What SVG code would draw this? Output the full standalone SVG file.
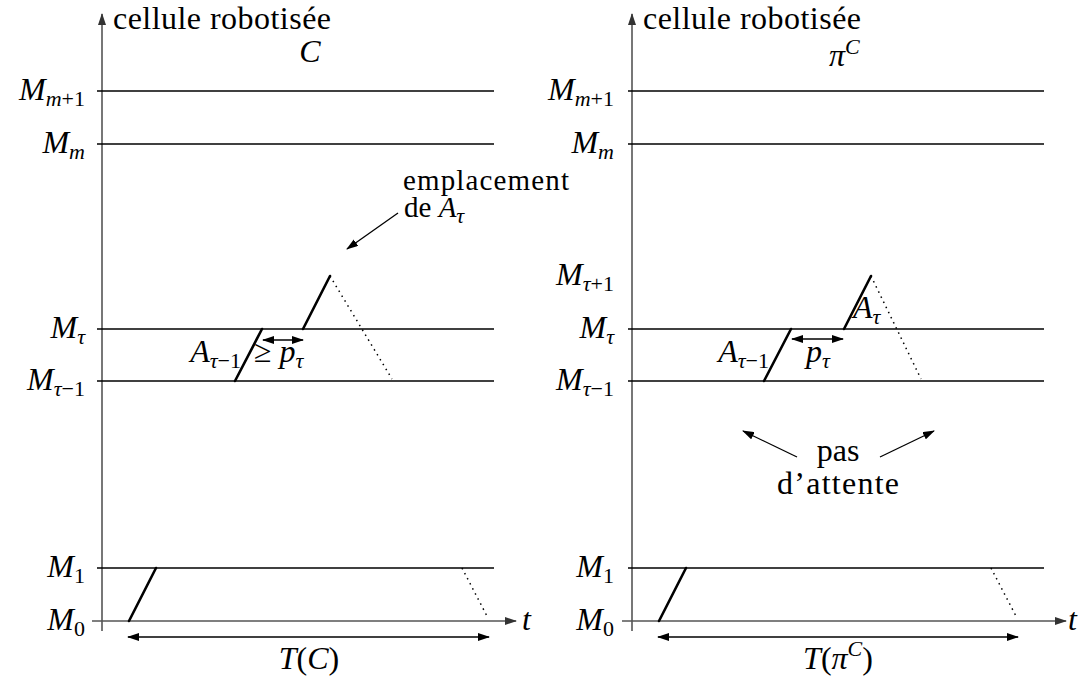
<svg xmlns="http://www.w3.org/2000/svg" width="1081" height="680" viewBox="0 0 1081 680">
<style>
.t{font-family:'Liberation Serif',serif;font-size:32px;fill:#000}
.i{font-style:italic}
.s{font-size:22px}
.e{font-size:29px}
.ln{stroke:#000;stroke-width:1.3;fill:none}
.ax{stroke:#555;stroke-width:1.6;fill:none}
.th{stroke:#000;stroke-width:2.6;fill:none;stroke-linecap:round}
.dt{stroke:#000;stroke-width:1.5;fill:none;stroke-dasharray:1.5 4.2}
.ar{stroke:#000;stroke-width:1.3;fill:none}
</style>
<defs>
<marker id="ah" markerWidth="12" markerHeight="8" refX="11" refY="4" orient="auto-start-reverse" markerUnits="userSpaceOnUse"><path d="M0,0 L12,4 L0,8 z" fill="#000"/></marker>
<marker id="ahs" markerWidth="12" markerHeight="8" refX="11" refY="4" orient="auto-start-reverse" markerUnits="userSpaceOnUse"><path d="M0,0 L12,4 L0,8 z" fill="#333"/></marker>
</defs>

<g id="left-axes">
<line class="ax" x1="102" y1="631" x2="102" y2="14" marker-end="url(#ahs)"/>
<line class="ax" x1="92" y1="621" x2="516" y2="621" marker-end="url(#ahs)"/>
<line class="ln" x1="97" y1="91" x2="494" y2="91"/>
<line class="ln" x1="97" y1="144" x2="494" y2="144"/>
<line class="ln" x1="97" y1="329" x2="494" y2="329"/>
<line class="ln" x1="97" y1="381" x2="494" y2="381"/>
<line class="ln" x1="97" y1="568" x2="494" y2="568"/>
</g>
<g id="left-title"><text class="t" x="113" y="29" textLength="218">cellule robotisée</text></g>
<g id="left-C"><text class="t i" x="310" y="62" text-anchor="middle">C</text></g>
<g id="left-t"><text class="t i" x="522" y="630">t</text></g>
<g id="left-labels">
<text class="t" x="85" y="100" text-anchor="end"><tspan class="i">M</tspan><tspan class="s" dy="6"><tspan class="i">m</tspan>+1</tspan></text>
<text class="t" x="85" y="153" text-anchor="end"><tspan class="i">M</tspan><tspan class="s i" dy="6">m</tspan></text>
<text class="t" x="85" y="338" text-anchor="end"><tspan class="i">M</tspan><tspan class="s i" dy="6">τ</tspan></text>
<text class="t" x="85" y="390" text-anchor="end"><tspan class="i">M</tspan><tspan class="s" dy="6"><tspan class="i">τ</tspan>−1</tspan></text>
<text class="t" x="85" y="577" text-anchor="end"><tspan class="i">M</tspan><tspan class="s" dy="6">1</tspan></text>
<text class="t" x="85" y="630" text-anchor="end"><tspan class="i">M</tspan><tspan class="s" dy="6">0</tspan></text>
</g>
<g id="left-schedule">
<line class="th" x1="129" y1="621" x2="156" y2="568"/>
<line class="dt" x1="462" y1="568" x2="488" y2="618"/>
<line class="th" x1="235" y1="381" x2="262" y2="329"/>
<line class="th" x1="303" y1="329" x2="330" y2="276"/>
<line class="dt" x1="330" y1="276" x2="392" y2="379"/>
</g>
<g id="left-Atau1"><text class="t" x="241" y="362" text-anchor="end"><tspan class="i">A</tspan><tspan class="s" dy="6"><tspan class="i">τ</tspan>−1</tspan></text></g>
<g id="left-geq"><text class="t" x="254" y="362">≥ <tspan class="i">p</tspan><tspan class="s i" dy="6">τ</tspan></text></g>
<g id="left-empl">
<text class="t e" x="403" y="190" textLength="166">emplacement</text>
<text class="t e" x="404" y="217">de <tspan class="i">A</tspan><tspan class="s i" dy="6">τ</tspan></text>
</g>
<g id="left-TC"><text class="t" x="309" y="669" text-anchor="middle"><tspan class="i">T</tspan>(<tspan class="i">C</tspan>)</text></g>

<g id="right-axes">
<line class="ax" x1="632" y1="631" x2="632" y2="14" marker-end="url(#ahs)"/>
<line class="ax" x1="622" y1="621" x2="1066" y2="621" marker-end="url(#ahs)"/>
<line class="ln" x1="628" y1="91" x2="1044" y2="91"/>
<line class="ln" x1="628" y1="144" x2="1044" y2="144"/>
<line class="ln" x1="628" y1="329" x2="1044" y2="329"/>
<line class="ln" x1="628" y1="381" x2="1044" y2="381"/>
<line class="ln" x1="628" y1="568" x2="1044" y2="568"/>
</g>
<g id="right-title"><text class="t" x="643" y="29" textLength="218">cellule robotisée</text></g>
<g id="right-piC"><text class="t" x="829" y="66"><tspan class="i">π</tspan><tspan class="s i" dy="-12">C</tspan></text></g>
<g id="right-t"><text class="t i" x="1068" y="630">t</text></g>
<g id="right-labels">
<text class="t" x="614" y="100" text-anchor="end"><tspan class="i">M</tspan><tspan class="s" dy="6"><tspan class="i">m</tspan>+1</tspan></text>
<text class="t" x="614" y="153" text-anchor="end"><tspan class="i">M</tspan><tspan class="s i" dy="6">m</tspan></text>
<text class="t" x="614" y="285" text-anchor="end"><tspan class="i">M</tspan><tspan class="s" dy="6"><tspan class="i">τ</tspan>+1</tspan></text>
<text class="t" x="614" y="338" text-anchor="end"><tspan class="i">M</tspan><tspan class="s i" dy="6">τ</tspan></text>
<text class="t" x="614" y="390" text-anchor="end"><tspan class="i">M</tspan><tspan class="s" dy="6"><tspan class="i">τ</tspan>−1</tspan></text>
<text class="t" x="614" y="577" text-anchor="end"><tspan class="i">M</tspan><tspan class="s" dy="6">1</tspan></text>
<text class="t" x="614" y="630" text-anchor="end"><tspan class="i">M</tspan><tspan class="s" dy="6">0</tspan></text>
</g>
<g id="right-schedule">
<line class="th" x1="659" y1="621" x2="686" y2="568"/>
<line class="dt" x1="991" y1="568" x2="1017" y2="618"/>
<line class="th" x1="764" y1="381" x2="791" y2="329"/>
<line class="th" x1="844" y1="329" x2="871" y2="276"/>
<line class="dt" x1="871" y1="276" x2="921" y2="379"/>
</g>
<g id="right-Atau"><text class="t" x="853" y="318"><tspan class="i">A</tspan><tspan class="s i" dy="6">τ</tspan></text></g>
<g id="right-Atau1"><text class="t" x="769" y="362" text-anchor="end"><tspan class="i">A</tspan><tspan class="s" dy="6"><tspan class="i">τ</tspan>−1</tspan></text></g>
<g id="right-ptau"><text class="t" x="806" y="362"><tspan class="i">p</tspan><tspan class="s i" dy="6">τ</tspan></text></g>
<g id="right-pas">
<text class="t" x="838" y="461" text-anchor="middle">pas</text>
<text class="t" x="838" y="494" text-anchor="middle" textLength="122">d’attente</text>
</g>
<g id="right-TpiC"><text class="t" x="838" y="669" text-anchor="middle"><tspan class="i">T</tspan>(<tspan class="i">π</tspan><tspan class="s i" dy="-13">C</tspan><tspan dy="13">)</tspan></text></g>

<g id="connectors">
<line class="ar" x1="263" y1="340" x2="303" y2="340" marker-start="url(#ah)" marker-end="url(#ah)"/>
<line class="ar" x1="128" y1="637" x2="489" y2="637" marker-start="url(#ah)" marker-end="url(#ah)"/>
<line class="ar" x1="398" y1="213" x2="347" y2="249" marker-end="url(#ah)"/>
<line class="ar" x1="792" y1="339" x2="843" y2="339" marker-start="url(#ah)" marker-end="url(#ah)"/>
<line class="ar" x1="658" y1="637" x2="1018" y2="637" marker-start="url(#ah)" marker-end="url(#ah)"/>
<line class="ar" x1="797" y1="457" x2="743" y2="431" marker-end="url(#ah)"/>
<line class="ar" x1="880" y1="457" x2="934" y2="431" marker-end="url(#ah)"/>
</g>
</svg>
